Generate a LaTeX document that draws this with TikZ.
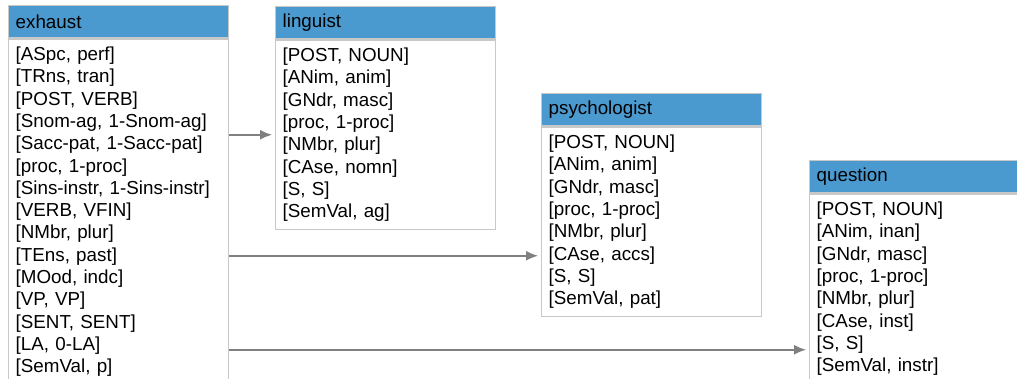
\documentclass[tikz,border=0pt]{standalone}
\usepackage{fontspec}
\setmainfont{Liberation Sans}
\usetikzlibrary{arrows.meta, positioning}
\definecolor{headblue}{RGB}{75,154,207}
\definecolor{boxgray}{RGB}{200,200,200}
\definecolor{linkgray}{RGB}{128,128,128}

\begin{document}
\begin{tikzpicture}[x=1pt, y=-1pt,
  head/.style={draw=boxgray, line width=1.3pt, fill=headblue, minimum height=32pt,
    anchor=north west, inner xsep=7pt, text width=206pt, align=left,
    font=\fontsize{18.8}{21}\selectfont},
  body/.style={draw=boxgray, line width=1.3pt, fill=white, text width=206pt,
    inner xsep=7pt, inner ysep=8pt, align=left,
    font=\fontsize{18.8}{22.3}\selectfont},
  link/.style={draw=linkgray, line width=1.5pt, -{Latex[length=12pt, width=10pt]}, shorten >=3pt}]
\clip (0,0) rectangle (1017,378);
% Verb box
\node[head] (exh-h) at (8,5) {exhaust};
\node[body, below=0pt of exh-h] (exh) {{[ASpc, perf]}\\ {[TRns, tran]}\\ {[POST, VERB]}\\
  {[Snom-ag, 1-Snom-ag]}\\ {[Sacc-pat, 1-Sacc-pat]}\\ {[proc, 1-proc]}\\
  {[Sins-instr, 1-Sins-instr]}\\ {[VERB, VFIN]}\\ {[NMbr, plur]}\\ {[TEns, past]}\\
  {[MOod, indc]}\\ {[VP, VP]}\\ {[SENT, SENT]}\\ {[LA, 0-LA]}\\ {[SemVal, p]}};
% Noun boxes
\node[head] (ling-h) at (275,6) {linguist};
\node[body, below=0pt of ling-h] (ling) {{[POST, NOUN]}\\ {[ANim, anim]}\\ {[GNdr, masc]}\\
  {[proc, 1-proc]}\\ {[NMbr, plur]}\\ {[CAse, nomn]}\\ {[S, S]}\\ {[SemVal, ag]}};
\node[head] (psy-h) at (541,93) {psychologist};
\node[body, below=0pt of psy-h] (psy) {{[POST, NOUN]}\\ {[ANim, anim]}\\ {[GNdr, masc]}\\
  {[proc, 1-proc]}\\ {[NMbr, plur]}\\ {[CAse, accs]}\\ {[S, S]}\\ {[SemVal, pat]}};
\node[head] (quest-h) at (809,160) {question};
\node[body, below=0pt of quest-h] (quest) {{[POST, NOUN]}\\ {[ANim, inan]}\\ {[GNdr, masc]}\\
  {[proc, 1-proc]}\\ {[NMbr, plur]}\\ {[CAse, inst]}\\ {[S, S]}\\ {[SemVal, instr]}};
% Links
\draw[link] (exh.east |- ling.west) -- (ling.west);
\draw[link] ([yshift=-34pt]psy.west -| exh.east) -- ([yshift=-34pt]psy.west);
\draw[link] ([yshift=-61pt]quest.west -| exh.east) -- ([yshift=-61pt]quest.west);
\end{tikzpicture}
\end{document}
